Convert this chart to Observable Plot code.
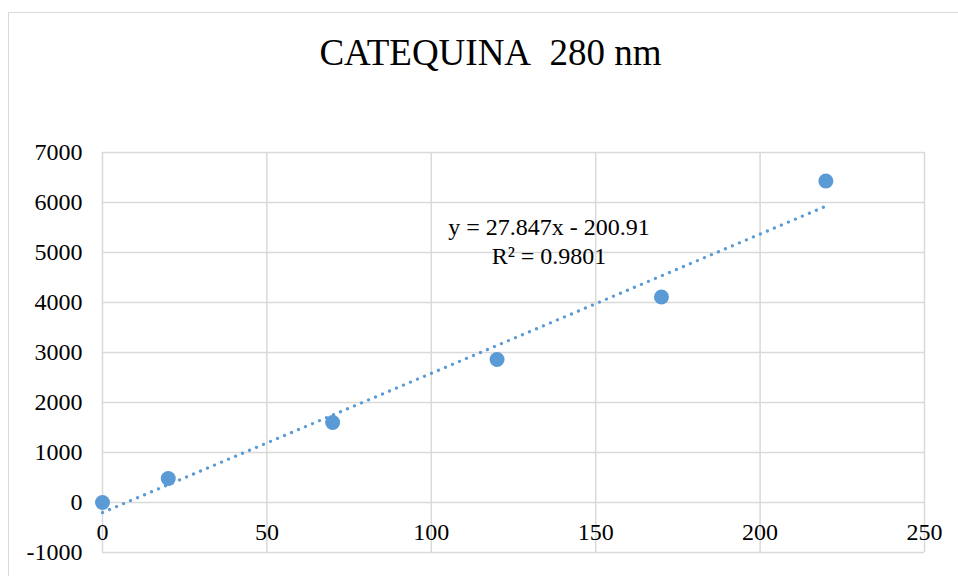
<!DOCTYPE html>
<html>
<head>
<meta charset="utf-8">
<script src="https://cdn.jsdelivr.net/npm/d3@7"></script>
<script src="https://cdn.jsdelivr.net/npm/@observablehq/plot@0.6"></script>
<style>
  html, body { margin: 0; padding: 0; background: #fff; overflow: hidden; }
  #wrap { position: relative; width: 958px; height: 576px; overflow: hidden; }
  #border {
    position: absolute; left: 8px; top: 12px; width: 1000px; height: 700px;
    border: 1.5px solid #d9d9d9; box-sizing: border-box;
  }
  #chart { position: absolute; left: 0; top: 0; }
  #chart svg text { font-family: 'Liberation Serif', 'Times New Roman', serif; }
</style>
</head>
<body>
<div id="wrap"><div id="border"></div><div id="chart"></div></div>
<script>
// Catechin calibration at 280 nm: concentration vs. peak area
const concentration = [0, 20, 70, 120, 170, 220];
const area = [0, 480, 1600, 2860, 4110, 6430];

// Linear trendline as reported
const slope = 27.847;
const intercept = -200.91;
const rSquared = "0.9801";
const trendRange = [0, 220];

const xTicks = [0, 50, 100, 150, 200, 250];
const yTicks = [-1000, 0, 1000, 2000, 3000, 4000, 5000, 6000, 7000];
const title = "CATEQUINA\u00a0 280 nm";

const points = concentration.map((x, i) => ({x, y: area[i]}));
const trend = trendRange.map(x => ({x, y: slope * x + intercept}));
const equation = [`y = ${slope}x - ${Math.abs(intercept)}`, `R² = ${rSquared}`];

const blue = "#5B9BD5";
const grid = "#d9d9d9";
const font = "'Liberation Serif', 'Times New Roman', serif";
const plain = d => String(d);

const chart = Plot.plot({
  width: 958,
  height: 576,
  marginLeft: 102,
  marginRight: 34,
  marginTop: 152,
  marginBottom: 24,
  style: {fontFamily: font, fontSize: "24px", color: "#000", background: "transparent", overflow: "visible"},
  x: {domain: [0, 250], axis: null},
  y: {domain: [-1000, 7000], axis: null},
  marks: [
    Plot.ruleX(xTicks, {stroke: grid, strokeWidth: 1.5, strokeOpacity: 1}),
    Plot.ruleY(yTicks, {stroke: grid, strokeWidth: 1.5, strokeOpacity: 1}),
    Plot.text(yTicks, {
      y: d => d, frameAnchor: "left", dx: -20, textAnchor: "end",
      text: plain, fontSize: 24, fontFamily: font, fill: "#000"
    }),
    Plot.text(xTicks, {
      x: d => d, y: 0, dy: 20, lineAnchor: "top",
      text: plain, fontSize: 24, fontFamily: font, fill: "#000"
    }),
    Plot.line(trend, {
      x: "x", y: "y", stroke: blue, strokeWidth: 3.2,
      strokeDasharray: "0.1 7.5", strokeLinecap: "round"
    }),
    Plot.dot(points, {x: "x", y: "y", r: 7.5, fill: blue, stroke: "none"}),
    Plot.text([equation.join("\n")], {
      x: 135.8, y: 5740, lineAnchor: "top", lineHeight: 1.17,
      textAnchor: "middle", fontSize: 24, fontFamily: font, fill: "#000"
    }),
    Plot.text([title], {
      frameAnchor: "top", dx: -23, dy: -114, lineAnchor: "top",
      fontSize: 37, fontFamily: font, fill: "#000"
    })
  ]
});
document.getElementById("chart").append(chart);
</script>
</body>
</html>
